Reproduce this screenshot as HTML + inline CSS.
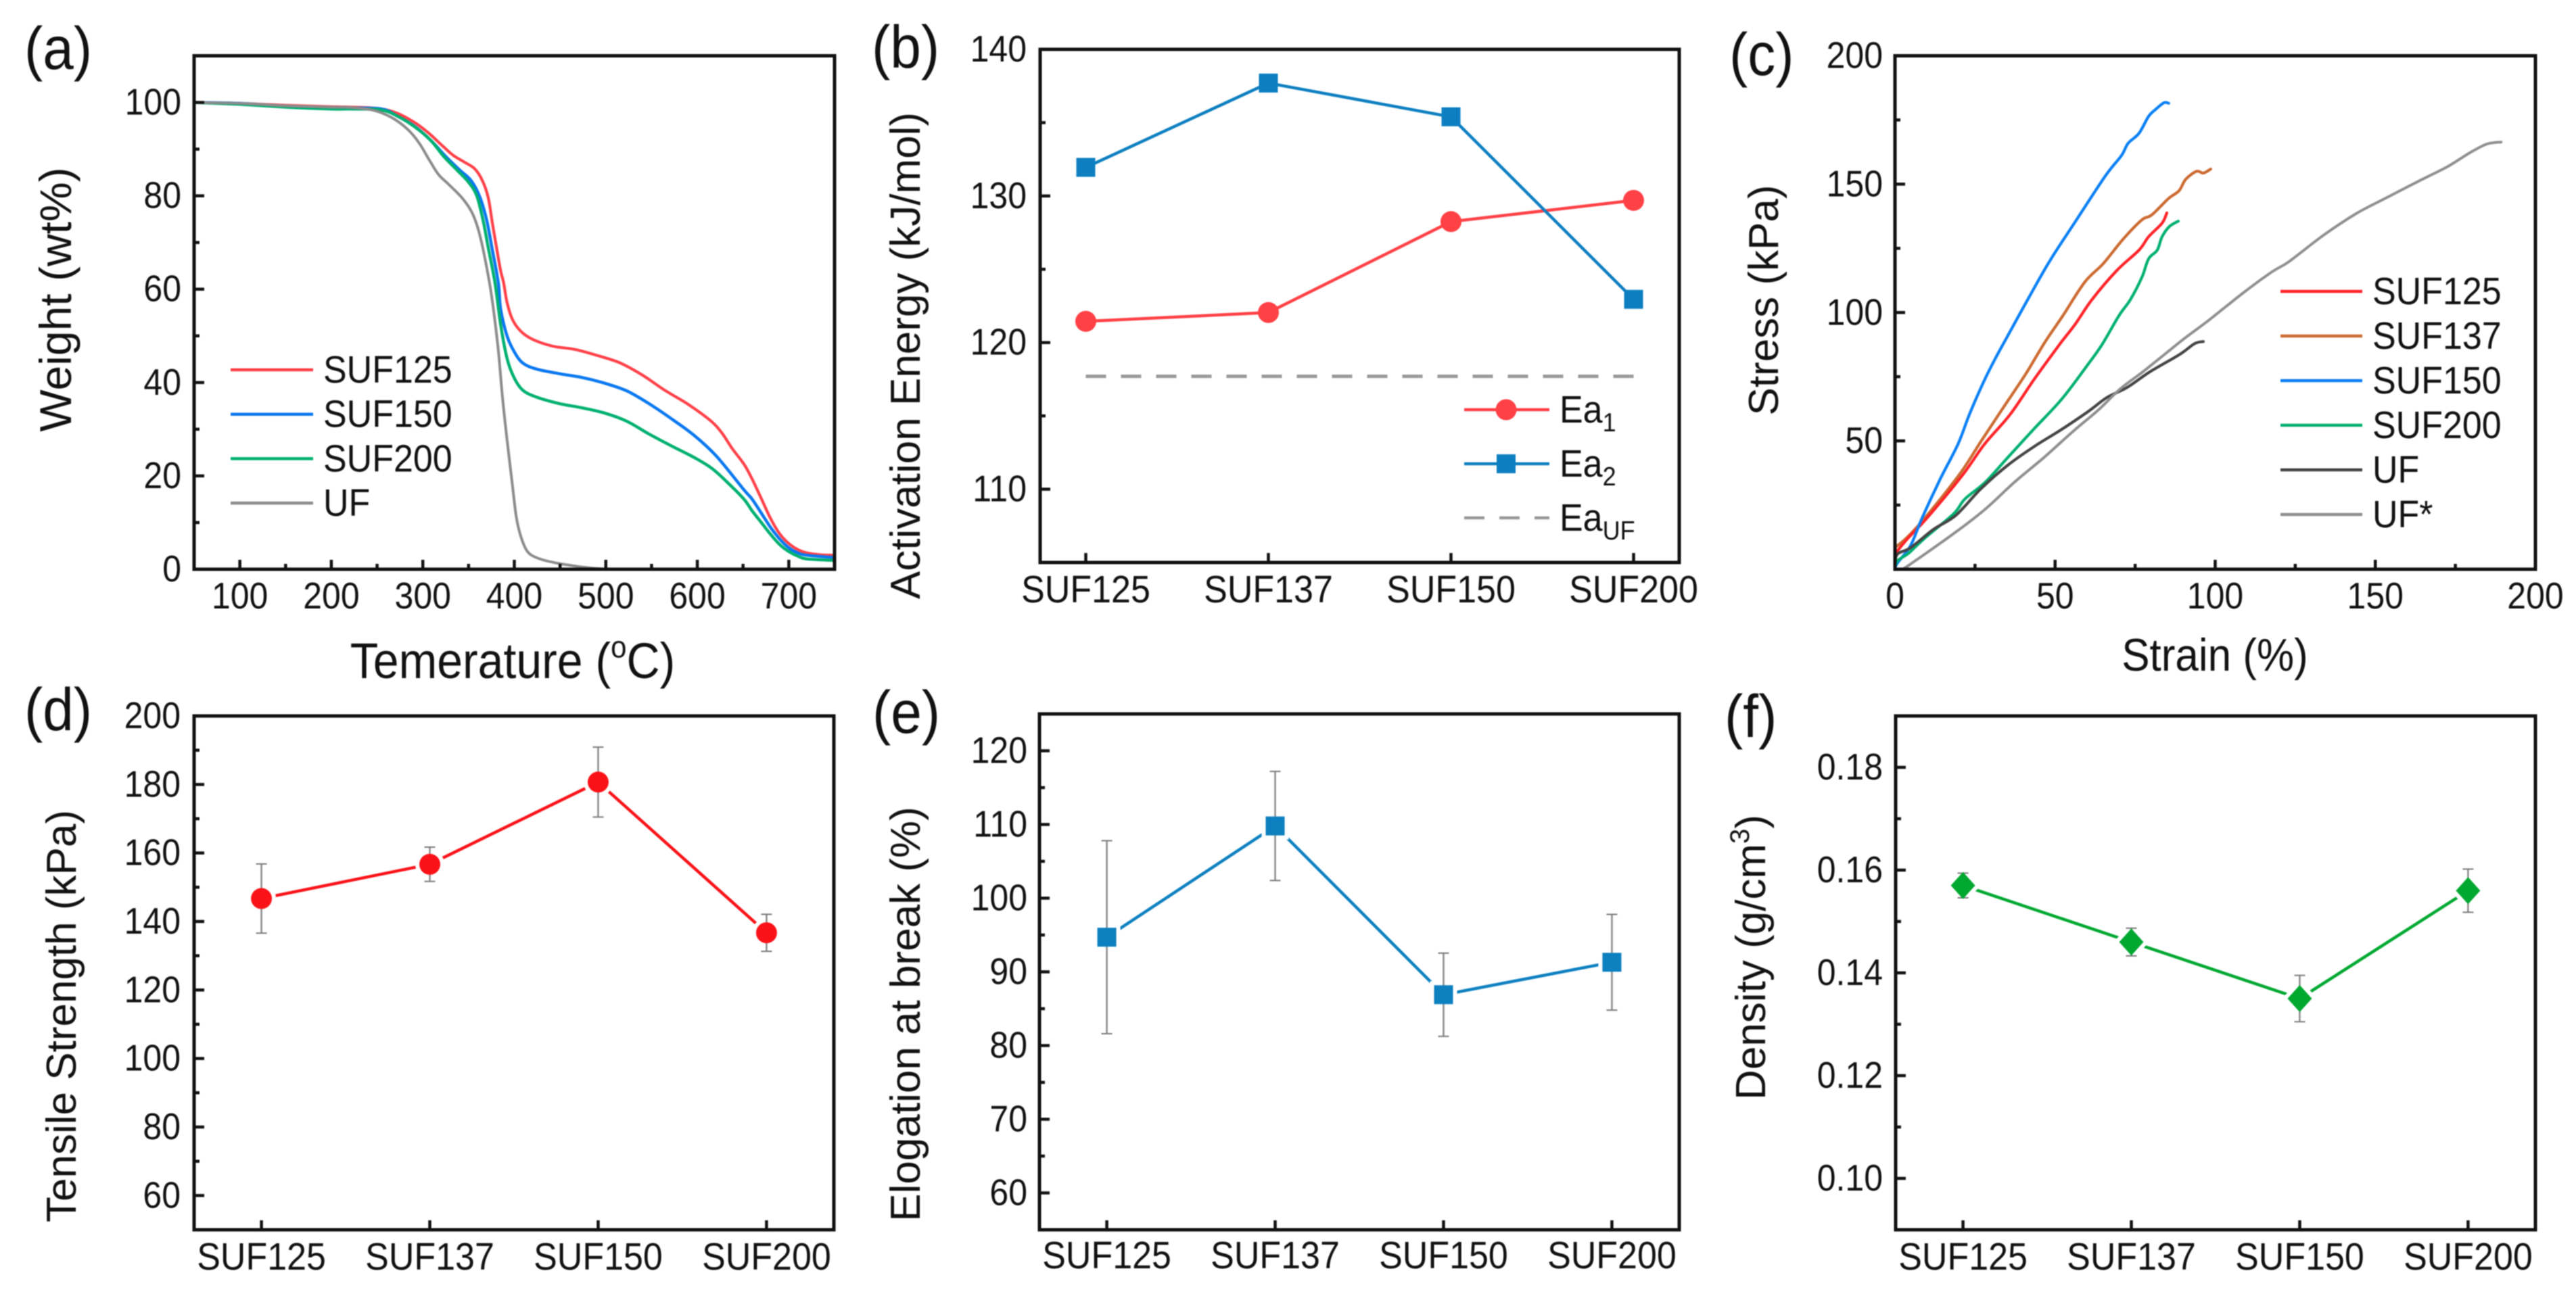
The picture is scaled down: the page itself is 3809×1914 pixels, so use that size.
<!DOCTYPE html>
<html lang="en">
<head>
<meta charset="utf-8">
<title>SUF and UF foam characterisation panels</title>
<style>
html,body{margin:0;padding:0;background:#fff;}
svg{display:block;font-family:"Liberation Sans",Arial,sans-serif;fill:#111;filter:blur(0.7px);}
</style>
</head>
<body>
<svg id="figure" xmlns="http://www.w3.org/2000/svg" width="3809" height="1914" viewBox="0 0 3809 1914">
  <rect x="0" y="0" width="3809" height="1914" fill="#fff"/>

  <text transform="translate(36 102) scale(1 1.09)" font-size="82">(a)</text>
  <text transform="translate(1289 100) scale(1 1.09)" font-size="82">(b)</text>
  <text transform="translate(2557 111) scale(1 1.09)" font-size="82">(c)</text>
  <text transform="translate(36 1080) scale(1 1.09)" font-size="82">(d)</text>
  <text transform="translate(1290 1084) scale(1 1.09)" font-size="82">(e)</text>
  <text transform="translate(2550 1090) scale(1 1.09)" font-size="82">(f)</text>

  <text transform="translate(758 1003) scale(1 1.09)" font-size="68" text-anchor="middle">Temerature (<tspan font-size="42" dy="-28">o</tspan><tspan dy="28">C)</tspan></text>
  <text transform="translate(105 443) rotate(-90)" font-size="66" text-anchor="middle">Weight (wt%)</text>
  <text transform="translate(1360 526) rotate(-90)" font-size="62" text-anchor="middle">Activation Energy (kJ/mol)</text>
  <text transform="translate(3275 992) scale(1 1.09)" font-size="62" text-anchor="middle">Strain (%)</text>
  <text transform="translate(2629 444) rotate(-90)" font-size="62" text-anchor="middle">Stress (kPa)</text>
  <text transform="translate(112 1503) rotate(-90)" font-size="62" text-anchor="middle">Tensile Strength (kPa)</text>
  <text transform="translate(1360 1500) rotate(-90)" font-size="62" text-anchor="middle">Elogation at break (%)</text>
  <text transform="translate(2610 1416) rotate(-90)" font-size="62" text-anchor="middle">Density (g/cm<tspan font-size="40" dy="-24">3</tspan><tspan dy="24">)</tspan></text>
</svg>

<script>
/* ---------- panel (a) TGA data ---------- */
const tgaNames = ['SUF125', 'SUF150', 'SUF200', 'UF'];
const tempSUF125 = [50,100,150,200,222,252,272,291,306,320.5,333,345.6,356.7,365,371.5,376,381,385,388.5,392,398,407,419.5,441.7,466,490.6,515.6,540,564,589.5,614,626.5,638,651,660,670,680,690,700,710,720,735,750];
const weightSUF125 = [100,99.8,99.4,99.1,99,98.7,97.7,95.7,93.5,90.9,88.7,87.2,85.8,83.3,79.6,74.2,68.4,64,61.2,57.2,53.5,51,49.3,47.8,47.1,45.8,44.2,41.6,38.4,35.4,31.9,29.3,25.9,22.5,19.3,15.1,10.9,7.6,5.5,4.2,3.5,3.1,3];
const tempSUF150 = [50,100,150,200,222,255,272,291,308.6,325.7,340.5,353,362.6,370,376,382.6,385,392,399.6,409,424,449,473.5,498,523,547,572,597,621,651,660,670,680,690,700,710,720,750];
const weightSUF150 = [100,99.8,99.2,98.9,98.8,98.6,97.1,94.9,91.9,88.3,85.5,83.2,79.6,74.6,68.4,61.2,55.8,50,46.7,44.2,42.9,41.9,41.1,39.9,38.2,35.5,32.2,28.6,24.2,17,15,12,9,6.5,4.6,3.5,3,2.5];
const tempSUF200 = [50,100,150,200,222,254,272,291,308.6,323,338,350,359,366,372,379,385,392,399.6,409,424,449,473.5,498,523,547,572,597,616,634,651,660,670,680,690,700,710,720,750];
const weightSUF200 = [100,99.6,99,98.6,98.6,98.4,97.1,94.8,91.9,88.4,85.4,82.9,80,74.6,68.4,61.2,52.5,45.2,41.1,38.4,36.9,35.5,34.6,33.5,31.7,29,26.4,23.9,21.6,18.4,15,12.5,10,7.5,5.3,3.8,2.8,2.2,1.9];
const tempUF = [50,100,150,200,222,246.6,266.5,283.6,296,307,317,328,342.7,353,360,366,373,377.4,382.6,387,392,397,402,407,414,424,441.7,466,490.6,515,542];
const weightUF = [100,99.8,99.3,99,98.9,98.3,96.7,94.2,91.3,87.7,84.6,82.5,79.6,76.7,73.2,68.4,61.2,55.4,46.7,37,27.8,19.6,11.4,7.1,3.9,2.5,1.5,0.7,0.15,0,0];
const aXTicks = [100,200,300,400,500,600,700];
const aXMinor = [150,250,350,450,550,650];
const aYTicks = [0,20,40,60,80,100];
const aYMinor = [10,30,50,70,90];

/* ---------- panel (b) activation energy data ---------- */
const categories = ['SUF125', 'SUF137', 'SUF150', 'SUF200'];
const ea1Values = [121.45, 122.05, 128.25, 129.7];
const ea2Values = [131.95, 137.7, 135.4, 122.95];
const eaUfValue = [117.7, 117.7, 117.7, 117.7];
const bYTicks = [110,120,130,140];
const bYMinor = [115,125,135];
const eaLegendBase = ['Ea', 'Ea', 'Ea'];
const eaLegendSub = ['1', '2', 'UF'];

/* ---------- panel (c) stress-strain data ---------- */
const stressNames = ['SUF125', 'SUF137', 'SUF150', 'SUF200', 'UF', 'UF*'];
const strainS125 = [0,4,9.9,21,28,35.9,43.6,51.3,56.2,61.5,69.3,76.2,79.2,83.4,84.9];
const stressS125 = [6,12,19.8,36.5,48.8,60.2,74.2,87.4,95.3,105,116.4,124.3,129.5,134.8,138.8];
const strainS137 = [0,4.2,9.9,20.4,26.8,33.8,40.8,46.7,52.4,59.3,65,71.4,77.1,80.2,85.5,88.7,90.8,94.2,96.3,98.6];
const stressS137 = [8.4,12.9,20.8,37.4,49.7,62.9,76,88.2,98.7,111.9,119,128.8,136.1,138,144.5,147.4,151.9,155,154.3,155.9];
const strainS150 = [0,0.7,4.9,8.4,14,19.7,23.2,27.5,31,34.8,41.8,48.2,56,65.7,70.7,72.8,76.2,79.2,81.3,84,85.5];
const stressS150 = [0,2.3,9.3,19.8,34.8,48.8,60.2,72.5,81.3,90,105.8,119.8,134.8,153.2,161.1,165.9,169.8,176.4,179,181.7,181.5];
const strainS200 = [0,0.7,4.2,9.2,18.3,21.8,28.2,35.2,43.6,52.1,59.8,64.6,69.9,73.5,77.1,79.2,81.9,83.4,85.7,88.5];
const stressS200 = [0,3.2,6.2,12,21.6,27.3,33.9,43.5,54.9,66.3,79,87.4,98.7,105,113.7,120.9,124.3,129.5,133.5,135.6];
const strainUF = [0,0.7,4.9,12,19,26.8,35.2,43.6,52.1,60.5,66.2,72.5,79.6,88.7,93.6,96.3];
const stressUF = [1,5.8,8.4,15.5,21,31.3,40.5,47.9,54.5,61.6,66.9,70.8,76.9,83.5,87.9,88.7];
const strainUFstar = [2.5,9.2,19,28.2,37.3,46.5,55.6,63.4,70.4,77.4,84.5,90.5,98.2,108.8,117.8,123,133.7,144,153,163.6,172.5,179.5,184.8,189.3];
const stressUFstar = [0,5.8,14.5,23.4,33.9,43.5,53.7,61.9,70.3,76.9,84,90,97.2,107.7,115.9,119.8,130,138.5,144.4,151.2,156.8,162.2,165.6,166.4];
const cTicks = [0,50,100,150,200];
const cMinor = [25,75,125,175];

/* ---------- panel (d) tensile strength data ---------- */
const tensileValues = [146.7, 156.7, 180.7, 136.7];
const tensileErrors = [10.1, 5, 10.2, 5.4];
const dYTicks = [60,80,100,120,140,160,180,200];
const dYMinor = [70,90,110,130,150,170,190];

/* ---------- panel (e) elongation data ---------- */
const elongationValues = [94.7, 109.8, 86.9, 91.3];
const elongationErrors = [13.1, 7.4, 5.65, 6.5];
const eYTicks = [60,70,80,90,100,110,120];
const eYMinor = [65,75,85,95,105,115];

/* ---------- panel (f) density data ---------- */
const densityValues = [0.157, 0.146, 0.135, 0.156];
const densityErrors = [0.0024, 0.0027, 0.0045, 0.0042];
const fYTicks = [0.10,0.12,0.14,0.16,0.18];
const fYMinor = [0.11,0.13,0.15,0.17];

/* ---------- helpers ---------- */
const NS = 'http://www.w3.org/2000/svg';
const figure = document.getElementById('figure');
const INK = '#111';
const STRETCH = 1.09;

function make(tag, props, parent) {
  const node = document.createElementNS(NS, tag);
  for (const key in props) node.setAttribute(key, props[key]);
  (parent || figure).appendChild(node);
  return node;
}
function scale(d0, d1, r0, r1) {
  return function (v) { return r0 + (v - d0) * (r1 - r0) / (d1 - d0); };
}
function panelGroup(name) {
  const g = make('g', {});
  
  
  return g;
}
function drawTick(g, x1, y1, x2, y2, width) {
  const t = make('line', {x1: x1, y1: y1, x2: x2, y2: y2, stroke: INK, 'stroke-width': width}, g);
  
  
}
function drawLabel(g, x, y, text, anchor, size) {
  const t = make('text', {transform: 'translate(' + x + ' ' + y + ') scale(1 ' + STRETCH + ')', 'text-anchor': anchor, 'font-size': size}, g);
  t.textContent = text;
  
  
}
function drawFrame(g, box) {
  const f = make('rect', {x: box.l, y: box.t, width: box.r - box.l, height: box.b - box.t, fill: 'none', stroke: INK, 'stroke-width': 5}, g);
  
  
}
function drawYAxis(g, box, sy, major, minor, labelRight, fmt) {
  major.forEach(function (v) {
    drawTick(g, box.l, sy(v), box.l + 15, sy(v), 4.5);
    drawLabel(g, labelRight, sy(v) + 18, fmt ? fmt(v) : String(v), 'end', 50);
  });
  minor.forEach(function (v) { drawTick(g, box.l, sy(v), box.l + 8, sy(v), 4.5); });
}
function drawXAxisNumeric(g, box, sx, major, minor, baseline) {
  major.forEach(function (v) {
    drawTick(g, sx(v), box.b, sx(v), box.b - 14, 4.5);
    drawLabel(g, sx(v), baseline, String(v), 'middle', 50);
  });
  minor.forEach(function (v) { drawTick(g, sx(v), box.b, sx(v), box.b - 8, 4.5); });
}
function drawXAxisCategories(g, box, sx, baseline) {
  categories.forEach(function (c, i) {
    drawTick(g, sx(i + 1), box.b, sx(i + 1), box.b - 14, 4.5);
    drawLabel(g, sx(i + 1), baseline, c, 'middle', 52);
  });
}
function drawSeries(g, xs, ys, sx, sy, color, width, name, dash) {
  const pts = xs.map(function (x, i) { return sx(x).toFixed(1) + ',' + sy(ys[i]).toFixed(1); }).join(' ');
  const p = make('polyline', {points: pts, fill: 'none', stroke: color, 'stroke-width': width, 'stroke-linejoin': 'round', 'stroke-linecap': dash ? 'butt' : 'round'}, g);
  if (dash) p.setAttribute('stroke-dasharray', dash);
  
  
}
function drawCurve(g, xs, ys, sx, sy, color, width, name) {
  const px = xs.map(sx);
  const py = ys.map(sy);
  let d = 'M' + px[0].toFixed(1) + ' ' + py[0].toFixed(1);
  for (let i = 0; i < px.length - 1; i++) {
    const a = Math.max(i - 1, 0);
    const b = Math.min(i + 2, px.length - 1);
    const c1x = px[i] + (px[i + 1] - px[a]) / 6;
    const c1y = py[i] + (py[i + 1] - py[a]) / 6;
    const c2x = px[i + 1] - (px[b] - px[i]) / 6;
    const c2y = py[i + 1] - (py[b] - py[i]) / 6;
    d += 'C' + c1x.toFixed(1) + ' ' + c1y.toFixed(1) + ' ' + c2x.toFixed(1) + ' ' + c2y.toFixed(1) + ' ' + px[i + 1].toFixed(1) + ' ' + py[i + 1].toFixed(1);
  }
  const p = make('path', {d: d, fill: 'none', stroke: color, 'stroke-width': width, 'stroke-linejoin': 'round', 'stroke-linecap': 'round'}, g);
  
  
}
function drawMarker(g, shape, cx, cy, color, halo) {
  let m;
  const extra = halo ? {stroke: '#fff', 'stroke-width': 12} : {};
  if (shape === 'circle') {
    m = make('circle', Object.assign({cx: cx, cy: cy, r: 15.5, fill: halo ? '#fff' : color}, extra), g);
  } else if (shape === 'square') {
    m = make('rect', Object.assign({x: cx - 14, y: cy - 14, width: 28, height: 28, fill: halo ? '#fff' : color}, extra), g);
  } else {
    const d = [cx, cy - 20, cx + 18, cy, cx, cy + 20, cx - 18, cy].join(' ');
    m = make('polygon', Object.assign({points: d, fill: halo ? '#fff' : color}, extra), g);
  }
  
  
  return m;
}
function drawErrorBar(g, cx, yTop, yBottom) {
  const stem = make('line', {x1: cx, x2: cx, y1: yTop, y2: yBottom, stroke: '#8a8a8a', 'stroke-width': 2.5}, g);
  
  
  [yTop, yBottom].forEach(function (y) {
    const cap = make('line', {x1: cx - 8, x2: cx + 8, y1: y, y2: y, stroke: '#7a7a7a', 'stroke-width': 2}, g);
    
    
  });
}
function drawLegendLine(g, x1, x2, y, color, dash) {
  const l = make('line', {x1: x1, x2: x2, y1: y, y2: y, stroke: color, 'stroke-width': 4.5}, g);
  if (dash) l.setAttribute('stroke-dasharray', dash);
  
  
}
function drawLegendText(g, x, y, text) {
  const t = make('text', {transform: 'translate(' + x + ' ' + y + ') scale(1 ' + STRETCH + ')', 'font-size': 52}, g);
  t.textContent = text;
  
  
}
function drawPointPanel(g, box, sx, sy, values, errors, color, shape) {
  const idx = values.map(function (v, i) { return i + 1; });
  drawSeries(g, idx, values, sx, sy, color, 4.5, 'series-line');
  values.forEach(function (v, i) {
    drawMarker(g, shape, sx(i + 1), sy(v), color, true);
  });
  values.forEach(function (v, i) {
    drawErrorBar(g, sx(i + 1), sy(v + errors[i]), sy(v - errors[i]));
  });
  values.forEach(function (v, i) {
    drawMarker(g, shape, sx(i + 1), sy(v), color, false);
  });
}

/* ---------- panel (a) ---------- */
(function () {
  const box = {l: 287, r: 1234, t: 82.5, b: 842};
  const sx = scale(50, 750, box.l, box.r);
  const sy = scale(0, 110, box.b, box.t);
  const g = panelGroup('panel-a-tga');
  const colors = {SUF125: '#ff4048', SUF150: '#0a78f0', SUF200: '#00b070', UF: '#8c8c8c'};
  drawCurve(g, tempSUF125, weightSUF125, sx, sy, colors.SUF125, 4.2, 'series-suf125');
  drawCurve(g, tempSUF150, weightSUF150, sx, sy, colors.SUF150, 4.5, 'series-suf150');
  drawCurve(g, tempSUF200, weightSUF200, sx, sy, colors.SUF200, 4.5, 'series-suf200');
  drawCurve(g, tempUF, weightUF, sx, sy, colors.UF, 4, 'series-uf');
  drawXAxisNumeric(g, box, sx, aXTicks, aXMinor, 900);
  drawYAxis(g, box, sy, aYTicks, aYMinor, 268);
  drawFrame(g, box);
  tgaNames.forEach(function (n, i) {
    const y = 547 + 65.7 * i;
    drawLegendLine(g, 341, 463, y, colors[n]);
    drawLegendText(g, 478, y + 19, n);
  });
})();

/* ---------- panel (b) ---------- */
(function () {
  const box = {l: 1538, r: 2483, t: 73, b: 832};
  const sx = scale(0.75, 4.25, box.l, box.r);
  const sy = scale(105, 140, box.b, box.t);
  const g = panelGroup('panel-b-activation-energy');
  const red = '#ff4045', blue = '#0d7fc0', grey = '#999';
  const idx = categories.map(function (c, i) { return i + 1; });
  drawSeries(g, idx, eaUfValue, sx, sy, grey, 5, 'series-ea-uf', '30 22');
  drawSeries(g, idx, ea1Values, sx, sy, red, 4.5, 'series-ea1');
  drawSeries(g, idx, ea2Values, sx, sy, blue, 4.5, 'series-ea2');
  ea1Values.forEach(function (v, i) { drawMarker(g, 'circle', sx(i + 1), sy(v), red, false); });
  ea2Values.forEach(function (v, i) { drawMarker(g, 'square', sx(i + 1), sy(v), blue, false); });
  drawXAxisCategories(g, box, sx, 891);
  drawYAxis(g, box, sy, bYTicks, bYMinor, 1518);
  drawFrame(g, box);
  const legendColors = [red, blue, grey];
  const legendShapes = ['circle', 'square', null];
  eaLegendBase.forEach(function (base, i) {
    const y = 606 + 80 * i;
    drawLegendLine(g, 2165, 2291, y, legendColors[i], legendShapes[i] ? null : '30 22');
    if (legendShapes[i]) drawMarker(g, legendShapes[i], 2227, y, legendColors[i], false);
    const t = make('text', {transform: 'translate(2306 ' + (y + 19) + ') scale(1 ' + STRETCH + ')', 'font-size': 52}, g);
    
    
    const a = make('tspan', {}, t);
    a.textContent = base;
    const b = make('tspan', {'font-size': 36, dy: 12}, t);
    b.textContent = eaLegendSub[i];
  });
})();

/* ---------- panel (c) ---------- */
(function () {
  const box = {l: 2802, r: 3749, t: 82.5, b: 842};
  const sx = scale(0, 200, box.l, box.r);
  const sy = scale(0, 200, box.b, box.t);
  const g = panelGroup('panel-c-stress-strain');
  const colors = ['#ff2228', '#cc6a30', '#0a80f5', '#00b070', '#444', '#8f8f8f'];
  drawCurve(g, strainS137, stressS137, sx, sy, colors[1], 4.2, 'series-suf137');
  drawCurve(g, strainS125, stressS125, sx, sy, colors[0], 4.2, 'series-suf125');
  drawCurve(g, strainS150, stressS150, sx, sy, colors[2], 4.2, 'series-suf150');
  drawCurve(g, strainS200, stressS200, sx, sy, colors[3], 4.2, 'series-suf200');
  drawCurve(g, strainUF, stressUF, sx, sy, colors[4], 4.2, 'series-uf');
  drawCurve(g, strainUFstar, stressUFstar, sx, sy, colors[5], 4, 'series-uf-star');
  drawXAxisNumeric(g, box, sx, cTicks, cMinor, 900);
  drawYAxis(g, box, sy, cTicks.filter(function (v) { return v > 0; }), cMinor, 2784);
  drawFrame(g, box);
  stressNames.forEach(function (n, i) {
    const y = 431 + 66 * i;
    drawLegendLine(g, 3372, 3493, y, colors[i]);
    drawLegendText(g, 3508, y + 19, n);
  });
})();

/* ---------- panel (d) ---------- */
(function () {
  const box = {l: 287, r: 1233, t: 1059, b: 1819};
  const sx = scale(0.6, 4.4, box.l, box.r);
  const sy = scale(50, 200, box.b, box.t);
  const g = panelGroup('panel-d-tensile-strength');
  drawPointPanel(g, box, sx, sy, tensileValues, tensileErrors, '#fa1218', 'circle');
  drawXAxisCategories(g, box, sx, 1878);
  drawYAxis(g, box, sy, dYTicks, dYMinor, 267);
  drawFrame(g, box);
})();

/* ---------- panel (e) ---------- */
(function () {
  const box = {l: 1537, r: 2483, t: 1056, b: 1819};
  const sx = scale(0.6, 4.4, box.l, box.r);
  const sy = scale(55, 125, box.b, box.t);
  const g = panelGroup('panel-e-elongation');
  drawPointPanel(g, box, sx, sy, elongationValues, elongationErrors, '#0d80c0', 'square');
  drawXAxisCategories(g, box, sx, 1876);
  drawYAxis(g, box, sy, eYTicks, eYMinor, 1519);
  drawFrame(g, box);
})();

/* ---------- panel (f) ---------- */
(function () {
  const box = {l: 2803, r: 3749, t: 1059, b: 1819};
  const sx = scale(0.6, 4.4, box.l, box.r);
  const sy = scale(0.09, 0.19, box.b, box.t);
  const g = panelGroup('panel-f-density');
  drawPointPanel(g, box, sx, sy, densityValues, densityErrors, '#00a830', 'diamond');
  drawXAxisCategories(g, box, sx, 1878);
  drawYAxis(g, box, sy, fYTicks, fYMinor, 2784, function (v) { return v.toFixed(2); });
  drawFrame(g, box);
})();
</script>
</body>
</html>
